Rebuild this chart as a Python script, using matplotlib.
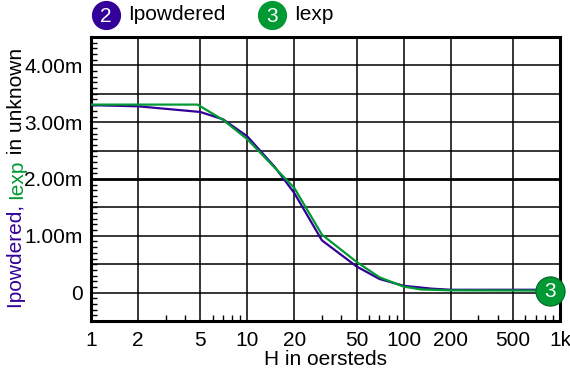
import matplotlib
matplotlib.use("Agg")
import matplotlib.pyplot as plt
from matplotlib.ticker import FixedLocator, NullFormatter
from matplotlib.lines import Line2D

plt.rcParams['font.family'] = ['Liberation Sans', 'DejaVu Sans']

# data (currents in mA)
h_powdered = [1, 2, 5, 7, 10, 15, 20, 30, 50, 70, 100, 150, 200, 1000]
i_powdered = [3.30, 3.28, 3.18, 3.05, 2.75, 2.21, 1.75, 0.92, 0.46, 0.24, 0.12, 0.07, 0.05, 0.05]
h_exp = [1, 4.8, 7, 10, 20, 30, 50, 70, 100, 130, 200, 1000]
i_exp = [3.31, 3.31, 3.04, 2.70, 1.84, 1.02, 0.54, 0.27, 0.105, 0.055, 0.04, 0.035]

x_ticks = [1, 2, 5, 10, 20, 50, 100, 200, 500, 1000]
x_labels = ['1', '2', '5', '10', '20', '50', '100', '200', '500', '1k']
y_ticks = [0, 1, 2, 3, 4]
y_labels = ['0', '1.00m', '2.00m', '3.00m', '4.00m']

PURPLE = '#330099'
GREEN = '#009933'
FS = 15

fig = plt.figure(figsize=(5.7, 3.72), dpi=100)
ax = fig.add_axes([91/570, 1-321/372, (560-91)/570, (321-37)/372])
ax.set_xscale('log')
ax.set_xlim(1, 1000)
ax.set_ylim(-0.5, 4.5)

# grid
for xv in x_ticks[1:-1]:
    ax.axvline(xv, color='black', lw=1.1, zorder=1)
yg = -0.5
while yg < 4.5:
    yg += 0.5
    if yg < 4.5:
        ax.axhline(yg, color='black', lw=2.0 if abs(yg-2) < 1e-9 else 1.1, zorder=1)

ax.plot(h_powdered, i_powdered, color=PURPLE, lw=1.6, zorder=3)
ax.plot(h_exp, i_exp, color=GREEN, lw=1.6, zorder=4)

# end marker
shift = matplotlib.transforms.Affine2D().translate(-10, 0)
ax.plot([h_exp[-1]], [i_exp[-1]], marker='o', ms=21, color=GREEN, mec='#006622', mew=0.8,
        clip_on=False, zorder=5, linestyle='none', transform=ax.transData + shift)
ax.annotate('3', xy=(h_exp[-1], i_exp[-1]), xytext=(-10, -1), textcoords='offset pixels',
            ha='center', va='center', color='white', fontsize=FS, zorder=6,
            annotation_clip=False)

ax.xaxis.set_major_locator(FixedLocator(x_ticks))
ax.set_xticklabels(x_labels)
minors = [m * d for d in [1, 10, 100] for m in [3, 4, 6, 7, 8, 9]]
ax.xaxis.set_minor_locator(FixedLocator(minors))
ax.xaxis.set_minor_formatter(NullFormatter())
ax.yaxis.set_major_locator(FixedLocator(y_ticks))
ax.set_yticklabels(y_labels)
ax.yaxis.set_minor_locator(FixedLocator([v/10 for v in range(-5, 46)]))

ax.tick_params(axis='both', which='major', length=0, labelsize=FS, pad=6)
ax.tick_params(axis='x', which='major', pad=7)
ax.tick_params(axis='x', which='minor', direction='in', length=4, width=1, top=False)
ax.tick_params(axis='y', which='minor', direction='in', length=4, width=1, right=False)
for s in ax.spines.values():
    s.set_linewidth(2.2)

ax.set_xlabel('H in oersteds', fontsize=FS, labelpad=0)

# legend
def legend_item(xc, num, label, color):
    fig.add_artist(Line2D([xc/570], [1-15/372], marker='o', ms=20, color=color,
                          transform=fig.transFigure, linestyle='none'))
    fig.text(xc/570, 1-16/372, num, color='white', fontsize=FS, ha='center', va='center')
    fig.text((xc+22)/570, 1-15/372, label, color='black', fontsize=FS, ha='left', va='center')

legend_item(106, '2', 'Ipowdered', PURPLE)
legend_item(272, '3', 'Iexp', GREEN)

# multi-colored y label
fig.canvas.draw()
renderer = fig.canvas.get_renderer()
parts = [('Ipowdered, ', PURPLE), ('Iexp', GREEN), (' in unknown', 'black')]
ypix = 308
for txt, col in parts:
    t = fig.text(16.5/570, 1-ypix/372, txt, color=col, fontsize=FS, rotation=90,
                 ha='left', va='center', rotation_mode='anchor')
    bb = t.get_window_extent(renderer)
    ypix = ypix - bb.height

fig.savefig('out.png', dpi=100)
